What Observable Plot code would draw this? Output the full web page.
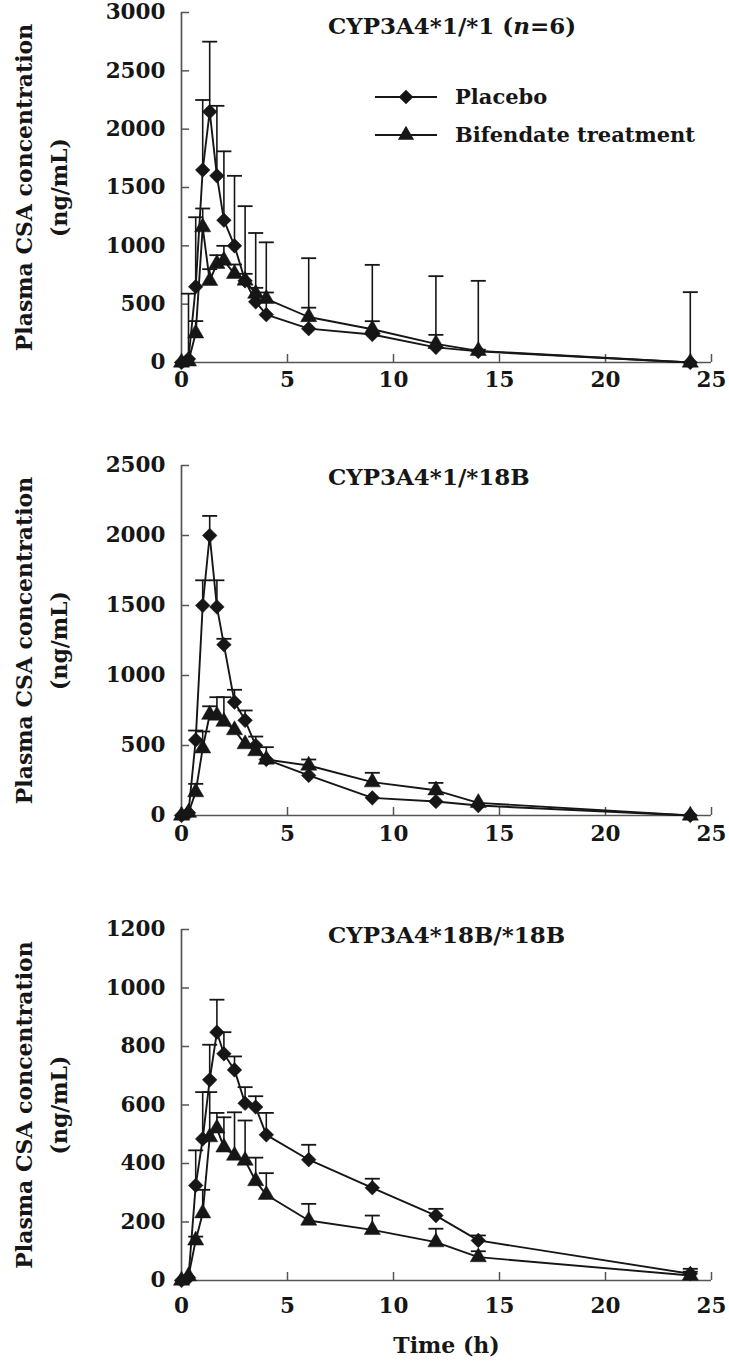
<!DOCTYPE html>
<html><head><meta charset="utf-8">
<script src="https://cdn.jsdelivr.net/npm/d3@7"></script>
<script src="https://cdn.jsdelivr.net/npm/@observablehq/plot@0.6"></script>
<style>
html,body{margin:0;padding:0;background:#fff;}
#wrap{position:relative;width:729px;height:1366px;overflow:hidden;font-family:"DejaVu Serif",serif;}
.panel{position:absolute;left:0;width:729px;}
#overlay{position:absolute;left:0;top:0;pointer-events:none;}
</style></head><body><div id="wrap"></div>
<script>
// ---- data ----
const times = [0, 0.33, 0.67, 1, 1.33, 1.67, 2, 2.5, 3, 3.5, 4, 6, 9, 12, 14, 24];
const seriesNames = ["Placebo", "Bifendate treatment"];

const p1Placebo      = [0, 30, 650, 1650, 2150, 1600, 1220, 1000, 700, 520, 410, 290, 240, 130, 95, 0];
const p1PlaceboUp    = [0, 590, 1245, 2250, 2750, 2200, 1810, 1600, 1340, 1110, 1030, 894, 837, 740, 700, 603];
const p1Bifendate    = [0, 10, 250, 1160, 700, 846, 874, 760, 703, 590, 546, 390, 285, 160, 100, 0];
const p1BifendateUp  = [0, 0, 355, 1320, 800, 920, 1000, 840, 760, 640, 600, 470, 354, 237, 110, 0];

const p2Placebo      = [0, 20, 540, 1500, 2000, 1490, 1220, 810, 680, 500, 400, 286, 126, 100, 71, 0];
const p2PlaceboUp    = [0, 0, 607, 1680, 2140, 1680, 1262, 898, 750, 564, 488, 0, 0, 0, 0, 0];
const p2Bifendate    = [0, 20, 167, 480, 720, 714, 670, 610, 510, 460, 400, 357, 238, 180, 90, 0];
const p2BifendateUp  = [0, 0, 226, 600, 780, 845, 845, 0, 0, 0, 0, 400, 305, 233, 0, 0];

const p3Placebo      = [0, 10, 325, 484, 686, 849, 775, 720, 606, 593, 498, 413, 317, 222, 137, 23];
const p3PlaceboUp    = [0, 0, 445, 644, 806, 960, 849, 766, 661, 630, 573, 464, 348, 245, 154, 40];
const p3Bifendate    = [0, 15, 137, 230, 490, 520, 455, 427, 410, 340, 293, 205, 173, 131, 80, 17];
const p3BifendateUp  = [0, 0, 150, 310, 644, 573, 558, 575, 547, 420, 367, 262, 222, 177, 100, 30];

const panelTitles = ["CYP3A4*1/*1 (", "CYP3A4*1/*18B", "CYP3A4*18B/*18B"];
const yMaxes = [3000, 2500, 1200];
const yTicksList = [
  [0, 500, 1000, 1500, 2000, 2500, 3000],
  [0, 500, 1000, 1500, 2000, 2500],
  [0, 200, 400, 600, 800, 1000, 1200]
];
const xTicks = [0, 5, 10, 15, 20, 25];
const yLabel = "Plasma CSA concentration\n(ng/mL)";
const xLabel = "Time (h)";

const panelsData = [
  [p1Placebo, p1PlaceboUp, p1Bifendate, p1BifendateUp],
  [p2Placebo, p2PlaceboUp, p2Bifendate, p2BifendateUp],
  [p3Placebo, p3PlaceboUp, p3Bifendate, p3BifendateUp]
];

// ---- layout ----
const panelTops = [0, 440, 900];
const panelHeights = [440, 460, 466];
const marginTops = [12, 25, 29];
const marginBottoms = [78, 85, 86];
const xPads = [9, 10, 17];
const ML = 181, MR = 18, W = 729;
const FONT = "DejaVu Serif";
const INK = "#161616";
const AXIS = "#555";
const R_DIAMOND = 6.6, R_TRIANGLE = 6.0;

const wrap = document.getElementById("wrap");

panelsData.forEach((arrs, i) => {
  const [pl, plUp, bf, bfUp] = arrs;
  const rows = [];
  times.forEach((t, j) => {
    rows.push({t, series: seriesNames[0], v: pl[j], up: plUp[j]});
    rows.push({t, series: seriesNames[1], v: bf[j], up: bfUp[j]});
  });
  const errs = rows.filter(d => d.up > d.v);
  const H = panelHeights[i];
  const plotH = H - marginTops[i] - marginBottoms[i];
  const plotW = W - ML - MR;
  const yMax = yMaxes[i];
  const tickY = yMax * 8 / plotH;     // 8px inward tick length in y units
  const tickX = 25 * 8 / plotW;       // 8px inward tick length in x units
  const cap = 25 * 7.5 / plotW;       // half cap width in x units

  const marks = [
    Plot.ruleX([0], {stroke: AXIS, strokeWidth: 1.7}),
    Plot.ruleY([0], {stroke: AXIS, strokeWidth: 1.7}),
    Plot.ruleY(yTicksList[i], {y: d => d, x1: 0, x2: tickX, stroke: AXIS, strokeWidth: 1.5}),
    Plot.ruleX(xTicks.slice(1), {x: d => d, y1: 0, y2: tickY, stroke: AXIS, strokeWidth: 1.5}),
    Plot.axisY(yTicksList[i], {tickSize: 0, tickPadding: 16, tickFormat: d3.format("d"), label: null, fontSize: 21.5, fontWeight: "bold", fill: INK}),
    Plot.axisX(xTicks, {tickSize: 0, tickPadding: xPads[i], tickFormat: d3.format("d"), label: null, fontSize: 21.5, fontWeight: "bold", fill: INK}),
    Plot.ruleX(errs, {x: "t", y1: "v", y2: "up", stroke: INK, strokeWidth: 1.6}),
    Plot.link(errs, {x1: d => d.t - cap, x2: d => d.t + cap, y1: "up", y2: "up", stroke: INK, strokeWidth: 1.8}),
    Plot.line(rows, {x: "t", y: "v", z: "series", stroke: INK, strokeWidth: 1.9}),
    Plot.dot(rows.filter(d => d.series === seriesNames[0]), {x: "t", y: "v", symbol: () => "diamond2", fill: INK, stroke: INK, strokeWidth: 0.5, r: R_DIAMOND}),
    Plot.dot(rows.filter(d => d.series === seriesNames[1]), {x: "t", y: "v", symbol: () => "triangle", fill: INK, stroke: INK, strokeWidth: 0.5, r: R_TRIANGLE}),
    Plot.text([yLabel], {frameAnchor: "left", dx: -143.5, rotate: -90, textAnchor: "middle", lineAnchor: "middle", lineHeight: 1.62, fontSize: 22, fontWeight: "bold", fill: INK})
  ];
  if (i === 2) {
    marks.push(Plot.text([xLabel], {frameAnchor: "bottom", dy: 65, lineAnchor: "middle", fontSize: 22, fontWeight: "bold", fill: INK}));
  }
  const svg = Plot.plot({
    width: W, height: H,
    marginLeft: ML, marginRight: MR, marginTop: marginTops[i], marginBottom: marginBottoms[i],
    x: {domain: [0, 25]},
    y: {domain: [0, yMax]},
    symbol: {type: "identity"},
    style: {fontFamily: FONT, fontWeight: "bold", fontSize: "21px", background: "transparent", overflow: "visible"},
    marks
  });
  const div = document.createElement("div");
  div.className = "panel";
  div.style.top = panelTops[i] + "px";
  div.style.height = H + "px";
  div.appendChild(svg);
  wrap.appendChild(div);
});

// ---- titles & legend overlay ----
const NS = "http://www.w3.org/2000/svg";
const ov = document.createElementNS(NS, "svg");
ov.setAttribute("id", "overlay");
ov.setAttribute("width", W);
ov.setAttribute("height", 1366);
const titleBaselines = [34, 485, 943];
function mkText(x, y, size) {
  const t = document.createElementNS(NS, "text");
  t.setAttribute("x", x); t.setAttribute("y", y);
  t.setAttribute("font-family", FONT); t.setAttribute("font-weight", "bold");
  t.setAttribute("font-size", size); t.setAttribute("fill", INK);
  return t;
}
panelTitles.forEach((tt, i) => {
  const t = mkText(328, titleBaselines[i], 23);
  t.appendChild(document.createTextNode(tt));
  if (i === 0) {
    const it = document.createElementNS(NS, "tspan");
    it.setAttribute("font-style", "italic");
    it.textContent = "n";
    t.appendChild(it);
    t.appendChild(document.createTextNode("=6)"));
  }
  ov.appendChild(t);
});
// legend
const legY = [97, 135];
const legSym = [d3.symbol(d3.symbolDiamond2, Math.PI * R_DIAMOND * R_DIAMOND)(), d3.symbol(d3.symbolTriangle, Math.PI * R_TRIANGLE * R_TRIANGLE)()];
seriesNames.forEach((name, k) => {
  const ln = document.createElementNS(NS, "line");
  ln.setAttribute("x1", 375); ln.setAttribute("x2", 437);
  ln.setAttribute("y1", legY[k]); ln.setAttribute("y2", legY[k]);
  ln.setAttribute("stroke", INK); ln.setAttribute("stroke-width", 1.9);
  ov.appendChild(ln);
  const p = document.createElementNS(NS, "path");
  p.setAttribute("d", legSym[k]);
  p.setAttribute("transform", `translate(406,${legY[k]})`);
  p.setAttribute("fill", INK);
  ov.appendChild(p);
  const t = mkText(455, legY[k] + 7, 21);
  t.textContent = name;
  ov.appendChild(t);
});
wrap.appendChild(ov);
</script>
</body></html>
